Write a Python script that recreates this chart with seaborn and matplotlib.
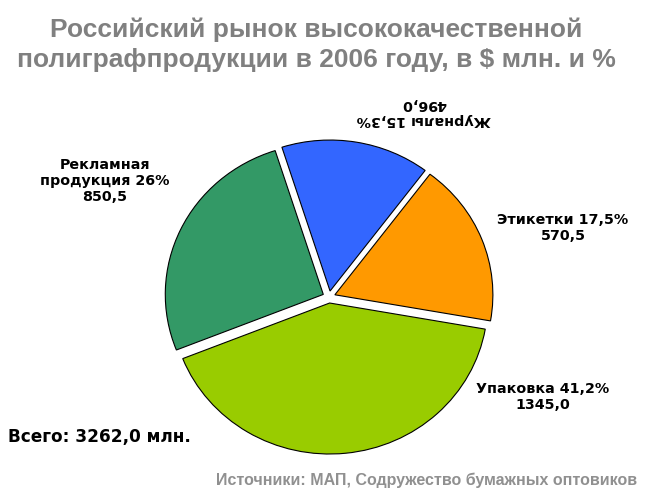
import matplotlib
matplotlib.use('Agg')
import matplotlib.pyplot as plt
import seaborn as sns

# data ($ mln)
segments = ['Журналы', 'Рекламная\nпродукция', 'Упаковка', 'Этикетки']
values = [496.0, 850.5, 1345.0, 570.5]
shares = ['15,3%', '26%', '41,2%', '17,5%']
value_text = ['496,0', '850,5', '1345,0', '570,5']
colors = ['#3366FF', '#339966', '#99CC00', '#FF9900']
total_text = '3262,0'

sns.set_theme(style='white')
plt.rcParams['font.family'] = ['Liberation Sans', 'DejaVu Sans']

W, H = 647, 495
fig = plt.figure(figsize=(W / 100, H / 100), dpi=100)
ax = fig.add_axes([0, 0, 1, 1])

ax.pie(values, colors=colors, startangle=53, counterclock=True,
       explode=[0.04] * 4,
       wedgeprops=dict(edgecolor='black', linewidth=0.8))

# pie is slightly wider than tall in the reference
cx, cy, rx, ry = 329, 297, 158, 151
ax.set_aspect('auto')
ax.set_xlim(-cx / rx, (W - cx) / rx)
ax.set_ylim(-(H - cy) / ry, cy / ry)
ax.axis('off')


def px(x, y):
    return x / W, 1 - y / H


# data labels: name + share, then value
label_pos = [(424, 112), (105, 181), (543, 397), (563, 228)]
for name, sh, vt, (x, y) in zip(segments, shares, value_text, label_pos):
    txt = f'{name} {sh}\n{vt}'
    rot = 180 if name == 'Журналы' else 0
    fig.text(*px(x, y), txt, ha='center', va='center', ma='center',
             family='DejaVu Sans', fontsize=10.3, fontweight='bold',
             linespacing=1.22, rotation=rot, color='black')

fig.text(*px(316, 45), 'Российский рынок высококачественной\nполиграфпродукции в 2006 году, в $ млн. и %',
         ha='center', va='center', fontsize=19, fontweight='bold',
         color='#808080', linespacing=1.32)

fig.text(*px(8, 437), f'Всего: {total_text} млн.', ha='left', va='center',
         family='DejaVu Sans', fontsize=12.2, fontweight='bold', color='black')

fig.text(*px(637, 480), 'Источники: МАП, Содружество бумажных оптовиков',
         ha='right', va='center', fontsize=11.5, fontweight='bold',
         color='#909090')

fig.savefig('out.png', dpi=100, facecolor='white')
